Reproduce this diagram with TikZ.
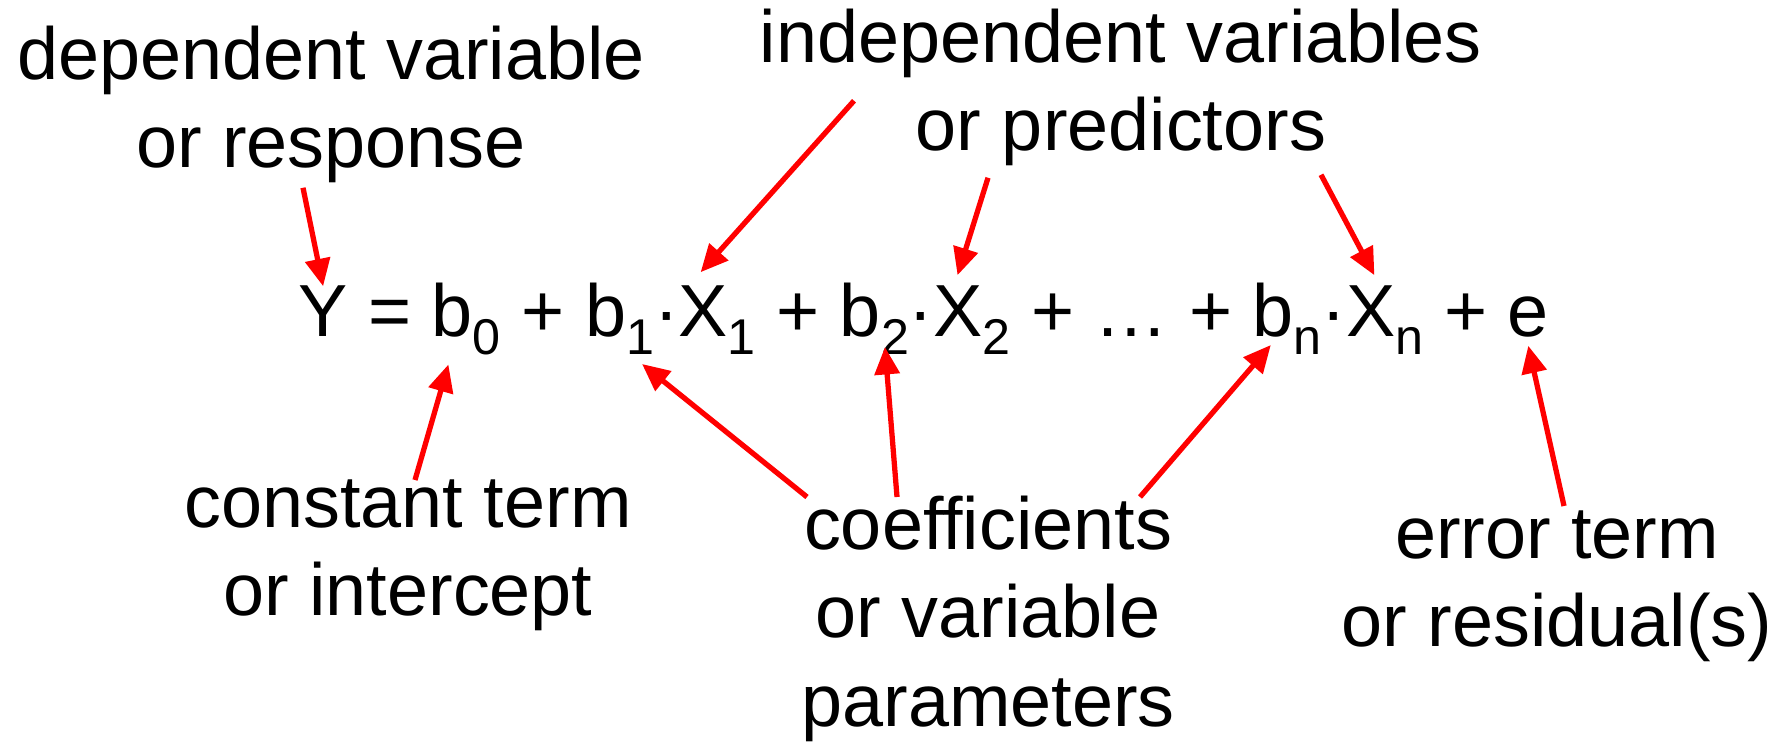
\documentclass[tikz,border=0pt]{standalone}
\usepackage{fontspec}
\setmainfont{Liberation Sans}[Ligatures=NoCommon]
\usetikzlibrary{positioning,arrows.meta}
\newcommand\low[1]{\raisebox{-0.18cm}{\fontsize{14.3}{14.3}\selectfont #1}}
\begin{document}
\begin{tikzpicture}[
    lbl/.style={align=center,inner sep=0.04cm,anchor=north,
        font=\fontsize{21}{25.2}\selectfont},
    eq/.style={inner sep=0pt,outer sep=0pt,font=\fontsize{21}{25.2}\selectfont},
    ptr/.style={red,line width=1.5pt,-{Triangle[length=7.8pt,width=7pt]}},
    node distance=5.84pt]
    \useasboundingbox (0,0) rectangle (17.85,7.42);
    % labels
    \node[lbl] (dep) at (3.31,7.21) {dependent variable\\or response};
    \node[lbl] (indep) at (11.21,7.38) {independent variables\\or predictors};
    \node[lbl] (const) at (4.08,2.67) {constant term\\or intercept};
    \node[lbl] (coef) at (9.88,2.51) {coefficients\\or variable\\parameters};
    \node[lbl] (err) at (15.57,2.36) {error term\\or residual(s)};
    % the equation
    \node[eq,anchor=base west] (Y) at (2.985,4.05) {Y};
    \node[eq,base right=of Y] (eqsign) {=};
    \node[eq,base right=of eqsign] (b0) {b\low{0}};
    \node[eq,base right=of b0] (plusa) {+};
    \node[eq,base right=of plusa] (b1) {b\low{1}};
    \node[eq,base right=0pt of b1] (dota) {·};
    \node[eq,base right=0pt of dota] (X1) {X\low{1}};
    \node[eq,base right=of X1] (plusb) {+};
    \node[eq,base right=of plusb] (b2) {b\low{2}};
    \node[eq,base right=0pt of b2] (dotb) {·};
    \node[eq,base right=0pt of dotb] (X2) {X\low{2}};
    \node[eq,base right=of X2] (plusc) {+};
    \node[eq,base right=of plusc] (dots) {…};
    \node[eq,base right=of dots] (plusd) {+};
    \node[eq,base right=of plusd] (bn) {b\low{n}};
    \node[eq,base right=0pt of bn] (dotc) {·};
    \node[eq,base right=0pt of dotc] (Xn) {X\low{n}};
    \node[eq,base right=of Xn] (pluse) {+};
    \node[eq,base right=of pluse] (e) {e};
    % arrows from the labels
    \draw[ptr] ([xshift=-0.28cm]dep.south) -- (Y.north);
    \draw[ptr] ([shift={(-2.67,0.7)}]indep.south)
        -- ([shift={(0.22,0.14)}]X1.north west);
    \draw[ptr] ([shift={(-1.33,-0.07)}]indep.south)
        -- ([shift={(0.24,0.11)}]X2.north west);
    \draw[ptr] ([shift={(2.0,-0.04)}]indep.south)
        -- ([shift={(0.28,0.11)}]Xn.north west);
    \draw[ptr] ([shift={(0.07,-0.05)}]const.north)
        -- ([shift={(0.165,-0.09)}]b0.south west);
    \draw[ptr] ([shift={(-1.81,-0.06)}]coef.north)
        -- ([shift={(0.57,-0.09)}]b1.south west);
    \draw[ptr] ([shift={(-0.91,-0.06)}]coef.north)
        -- ([shift={(0.45,0.08)}]b2.south west);
    \draw[ptr] ([shift={(1.52,-0.06)}]coef.north)
        -- ([shift={(0.18,0.10)}]bn.south west);
    \draw[ptr] ([xshift=0.07cm]err.north) -- ([yshift=-0.08cm]e.south);
\end{tikzpicture}
\end{document}
